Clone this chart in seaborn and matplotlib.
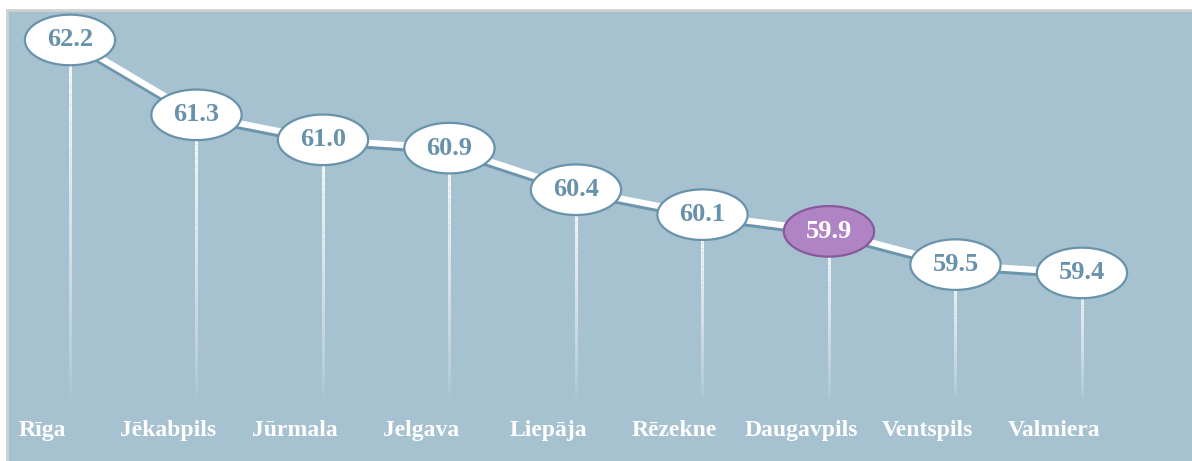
import numpy as np
import pandas as pd
import seaborn as sns
import matplotlib.pyplot as plt
import matplotlib.patheffects as pe
from matplotlib.path import Path
from matplotlib.transforms import ScaledTranslation

# data
cities = ['Rīga', 'Jēkabpils', 'Jūrmala', 'Jelgava', 'Liepāja', 'Rēzekne', 'Daugavpils', 'Ventspils', 'Valmiera']
values = [62.2, 61.3, 61.0, 60.9, 60.4, 60.1, 59.9, 59.5, 59.4]
highlight = 'Daugavpils'

bg = '#a6c1cf'
blue_txt = '#6891aa'
edge_blue = '#6893ab'

sns.set_style('white', {'axes.facecolor': bg})
plt.rcParams['font.family'] = ['Liberation Serif', 'DejaVu Serif']

df = pd.DataFrame({'city': cities, 'value': values})
df['x'] = np.arange(len(df))
df['hl'] = np.where(df['city'] == highlight, 'yes', 'no')

fig = plt.figure(figsize=(11.92, 4.61), dpi=100)
ax = fig.add_axes([7 / 1192, 0, 1 - 7 / 1192, 1 - 10 / 461])
ax.set_xlim(-0.498, 8.87)
ax.set_ylim(57.14, 62.56)

# fading drop lines
base = 57.9
for xi, v in zip(df['x'], df['value']):
    ys = np.linspace(v, base, 40)
    for i in range(len(ys) - 1):
        a = 0.9 * (1 - i / (len(ys) - 1)) ** 0.7
        ax.plot([xi, xi], [ys[i], ys[i + 1]], color='white', lw=2.2, alpha=a,
                solid_capstyle='butt', zorder=1)

# connecting line with shadow underneath
sns.lineplot(data=df, x='x', y='value', ax=ax, color='white', lw=4.5, zorder=2,
             path_effects=[pe.SimpleLineShadow(offset=(0, -2.2), shadow_color='#6a95ad', alpha=1),
                           pe.Normal()])

# ellipse markers
t = np.linspace(0, 2 * np.pi, 100)
ell = Path(np.column_stack([np.cos(t), 0.56 * np.sin(t)]), closed=True)
sns.scatterplot(data=df, x='x', y='value', hue='hl', palette={'no': 'white', 'yes': '#b083c4'},
                marker=ell, s=65 ** 2, ax=ax, legend=False, zorder=3, linewidth=0)
for xi, v, h in zip(df['x'], df['value'], df['hl']):
    ec = '#875a9c' if h == 'yes' else edge_blue
    ax.scatter([xi], [v], marker=ell, s=65 ** 2, facecolor='none', edgecolor=ec, linewidth=1.6, zorder=4)
    ax.text(xi, v, f'{v:.1f}', ha='center', va='center', fontsize=19, fontweight='bold',
            color='white' if h == 'yes' else blue_txt, zorder=5)

# category labels
off = ScaledTranslation(-28 / 100, 0, fig.dpi_scale_trans)
for xi, c in zip(df['x'], df['city']):
    ax.text(xi, 0.068, c, transform=ax.get_xaxis_transform() + off, ha='center', va='center',
            fontsize=17, fontweight='bold', color='white')

ax.set_xticks([])
ax.set_yticks([])
ax.set_xlabel('')
ax.set_ylabel('')
for s in ['right', 'bottom']:
    ax.spines[s].set_visible(False)
for s in ['top', 'left']:
    ax.spines[s].set_color('#d0d0d0')
    ax.spines[s].set_linewidth(2)

fig.savefig('out.png', dpi=100, facecolor='white')
